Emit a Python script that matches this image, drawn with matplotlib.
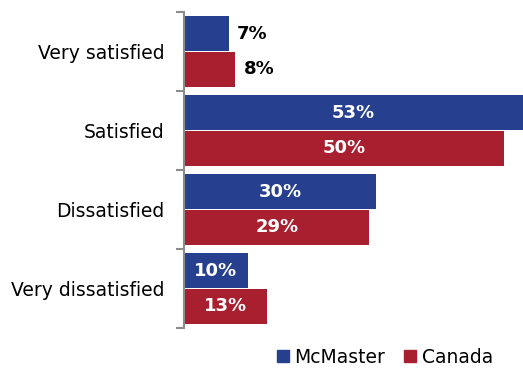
import numpy as np
import matplotlib.pyplot as plt
from matplotlib.patches import Patch

# satisfaction survey responses (%)
categories = ["Very satisfied", "Satisfied", "Dissatisfied", "Very dissatisfied"]
mcmaster = [7, 53, 30, 10]
canada = [8, 50, 29, 13]
series_names = ["McMaster", "Canada"]

blue = "#26408f"
red = "#a81f2f"

plt.rcParams['font.family'] = ['DejaVu Sans']

fig = plt.figure(figsize=(5.23, 3.70), dpi=100)
ax = fig.add_axes([184 / 523, 1 - 328 / 370, 339 / 523, 316 / 370])

y = np.arange(len(categories))
h = 0.44
off = 0.225

for vals, color, dy in [(mcmaster, blue, -off), (canada, red, off)]:
    bars = ax.barh(y + dy, vals, height=h, color=color)
    for b, v in zip(bars, vals):
        cy = b.get_y() + b.get_height() / 2
        if v < 9:
            ax.annotate(f"{v}%", (v, cy), xytext=(6, 0), textcoords="offset points",
                        ha="left", va="center", fontsize=13, fontweight="bold", color="black")
        else:
            ax.text(v / 2, cy, f"{v}%", ha="center", va="center",
                    fontsize=13, fontweight="bold", color="white")

ax.set_xlim(0, 53)
ax.set_ylim(3.5, -0.5)
ax.set_xticks([])
ax.set_yticks(y)
ax.set_yticklabels(categories, fontsize=13.5)
ax.tick_params(axis="y", which="major", length=0, pad=14)
ax.set_yticks(np.arange(-0.5, 4, 1), minor=True)
ax.tick_params(axis="y", which="minor", length=6, width=1.5, color="#8c8c8c")

for s in ["top", "right", "bottom"]:
    ax.spines[s].set_visible(False)
ax.spines["left"].set_color("#8c8c8c")
ax.spines["left"].set_linewidth(1.5)

handles = [Patch(color=blue), Patch(color=red)]
fig.legend(handles, series_names, loc="center right", bbox_to_anchor=(0.975, 0.035),
           ncol=2, frameon=False, fontsize=13.5, handlelength=0.65, handleheight=0.65,
           handletextpad=0.3, columnspacing=1.0)

fig.savefig("out.png", dpi=100)
